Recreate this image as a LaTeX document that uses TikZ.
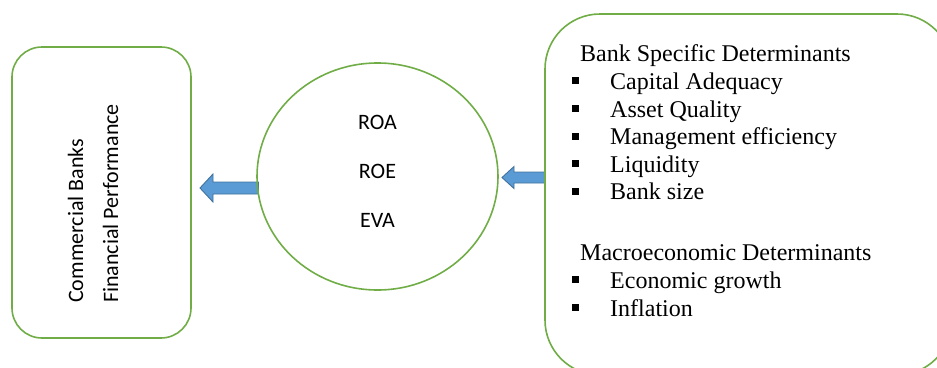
\documentclass[tikz,border=0pt]{standalone}
\usepackage{fontspec}
\setmainfont{Liberation Serif}
\newfontfamily\calfont{Carlito}
\usetikzlibrary{shapes.geometric}
\definecolor{frgreen}{HTML}{70AD47}
\definecolor{arrfill}{HTML}{5B9BD5}
\definecolor{arrline}{HTML}{41719C}
\newcommand\bitem[1]{\makebox[38pt][l]{\rule[5pt]{7pt}{7pt}}#1}
\tikzset{
  frame/.style={draw=frgreen, line width=1.6pt},
  blockarrow/.style={fill=arrfill, draw=arrline, line width=0.9pt, line join=miter},
  caltext/.style={font=\calfont\fontsize{22}{26}\selectfont, inner sep=0pt},
  sertext/.style={font=\fontsize{24}{27.6}\selectfont, inner sep=0pt, anchor=base west},
}
\begin{document}
\begin{tikzpicture}[x=1pt,y={(0pt,-1pt)}]
\useasboundingbox (0,0) rectangle (937,367);
\clip (0,0) rectangle (937,367);
% arrows (drawn first)
\coordinate (ltip) at (200,188);
\coordinate (rtip) at (502,177.5);
\draw[blockarrow] (ltip) -- ++(13,-14) -- ++(0,8) -- ++(45.5,0) -- ++(0,12) -- ++(-45.5,0) -- ++(0,8) -- cycle;
\draw[blockarrow] (rtip) -- ++(12,-11) -- ++(0,5.5) -- ++(31,0) -- ++(0,11) -- ++(-31,0) -- ++(0,5.5) -- cycle;
% left box
\node[frame, rounded corners=30pt, minimum width=179pt, minimum height=291pt, inner sep=0pt] (lbox) at (101.5,192.5) {};
\node[caltext, rotate=90, anchor=base west] (cb) at (83,303) {Commercial Banks};
\node[caltext, rotate=90, anchor=base west] (fp) at (118,303) {Financial Performance};
% ellipse
\node[frame, ellipse, minimum width=241pt, minimum height=227pt, inner sep=0pt] (circ) at (377.5,176.5) {};
\node[caltext, anchor=base] (roa) at (377.5,129) {ROA};
\node[caltext, anchor=base] (roe) at (377.5,178) {ROE};
\node[caltext, anchor=base] (eva) at (377.5,227) {EVA};
% right box
\draw[frame, rounded corners=55pt] (545,14) rectangle (952,375);
\coordinate (rbox) at (545,177.5);
\node[sertext] (h1) at (580,61) {Bank Specific Determinants};
\node[sertext] (i1) at (572,89) {\bitem{Capital Adequacy}};
\node[sertext] (i2) at (572,117) {\bitem{Asset Quality}};
\node[sertext] (i3) at (572,144.5) {\bitem{Management efficiency}};
\node[sertext] (i4) at (572,172) {\bitem{Liquidity}};
\node[sertext] (i5) at (572,199.5) {\bitem{Bank size}};
\node[sertext] (h2) at (580,260) {Macroeconomic Determinants};
\node[sertext] (j1) at (572,288) {\bitem{Economic growth}};
\node[sertext] (j2) at (572,316) {\bitem{Inflation}};
\end{tikzpicture}
\end{document}
